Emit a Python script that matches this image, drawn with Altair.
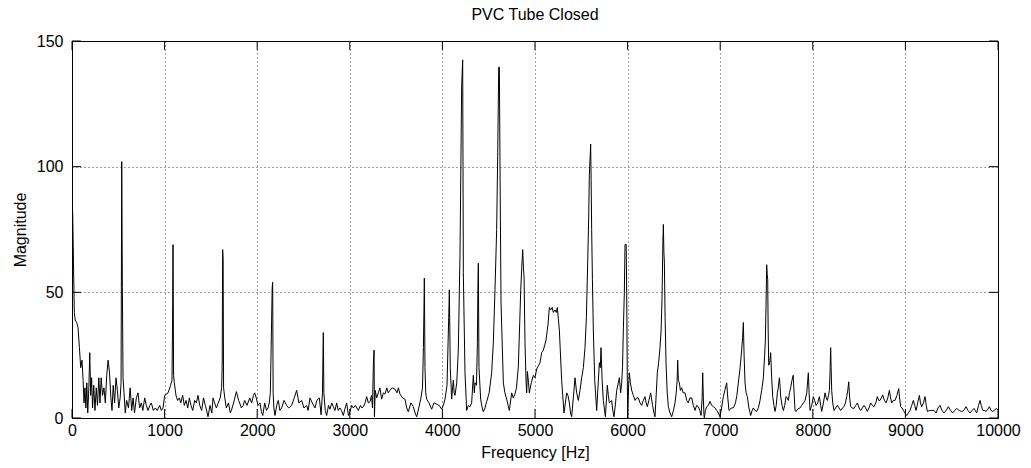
import altair as alt
import pandas as pd

freq = [0, 8, 16, 25, 35, 50, 65, 80, 94, 108, 120, 130, 140, 150, 160, 170, 182, 192, 202, 212, 222, 235, 248, 262, 275, 290, 302, 315, 330, 345, 360, 375, 390, 405, 420, 432, 445, 460, 475, 490, 505, 520, 530, 537, 544, 551, 562, 575,
        590, 610, 628, 645, 660, 675, 695, 713, 730, 749, 765, 785, 803, 821, 840, 857, 878, 900, 920, 947, 965, 983, 1001, 1037, 1065, 1080, 1086, 1091, 1097, 1105, 1123, 1140, 1159, 1175, 1195, 1213, 1231, 1250, 1267, 1285, 1303, 1325, 1343, 1361, 1380, 1400, 1420, 1440, 1460, 1469, 1490, 1510, 1523, 1540, 1559, 1580, 1600, 1616, 1622, 1627, 1632, 1637, 1650, 1667, 1690, 1710, 1721, 1745, 1775, 1800, 1829, 1848, 1865, 1890, 1919, 1940, 1960, 1973, 1990, 2009, 2030, 2045, 2060, 2081, 2100, 2117, 2130, 2142, 2162, 2167, 2172, 2180, 2192, 2210, 2228, 2245, 2264, 2290, 2318, 2340, 2372, 2400, 2426, 2450, 2480, 2505, 2534, 2550, 2570, 2595, 2624, 2645, 2671, 2690, 2705, 2710, 2714, 2720, 2735, 2750, 2770, 2786, 2805, 2822, 2840, 2858, 2875, 2894, 2910, 2930, 2950, 2966, 2985, 3002, 3020, 3038, 3060, 3092, 3115, 3130, 3146, 3165, 3182, 3200, 3218, 3235, 3245, 3255, 3262, 3266, 3275, 3290, 3308, 3325, 3344, 3362, 3380, 3400, 3415, 3434, 3460, 3488, 3510, 3525, 3542, 3570, 3596, 3615, 3632, 3660, 3686, 3705, 3722, 3745, 3766, 3785, 3795, 3800, 3805, 3812, 3820, 3830, 3855, 3884, 3910, 3938, 3965, 3992, 4010, 4028, 4050, 4068, 4075, 4085, 4100, 4110, 4118, 4127, 4136, 4155, 4172, 4190, 4208, 4219, 4226, 4244, 4262, 4280, 4298, 4316, 4334, 4345, 4352, 4368, 4378, 4383, 4388, 4395, 4413, 4430, 4442, 4460, 4478, 4505, 4532, 4550, 4568, 4586, 4597, 4608, 4615, 4622, 4633, 4658, 4675, 4694, 4710, 4723, 4748, 4765, 4784, 4800, 4820, 4835, 4846, 4857, 4867, 4875, 4882, 4892, 4903, 4910, 4918, 4930, 4939, 4960, 4982, 5000, 5018, 5040, 5054, 5072, 5090, 5105, 5119, 5140, 5155, 5170, 5185, 5198, 5215, 5230, 5241, 5263, 5288, 5313, 5328, 5342, 5356, 5371, 5384, 5396, 5414, 5432, 5450, 5468, 5486, 5504, 5522, 5540, 5555, 5569, 5580, 5587, 5597, 5601, 5606, 5612, 5620, 5630, 5645, 5666, 5680, 5695, 5705, 5713, 5725, 5738, 5760, 5781, 5792, 5803, 5828, 5840, 5853, 5870, 5882, 5900, 5911, 5925, 5936, 5945, 5954, 5965, 5972, 5985, 5990, 5997, 6001, 6010, 6019, 6030, 6044, 6062, 6080, 6098, 6116, 6134, 6152, 6170, 6188, 6200, 6213, 6230, 6249, 6270, 6285, 6296, 6310, 6321, 6335, 6350, 6362, 6372, 6381, 6386, 6392, 6397, 6405, 6415, 6428, 6440, 6458, 6476, 6495, 6512, 6525, 6535, 6541, 6548, 6559, 6570, 6584, 6600, 6620, 6638, 6656, 6672, 6692, 6710, 6728, 6745, 6764, 6780, 6793, 6805, 6811, 6818, 6825, 6829, 6840, 6854, 6872, 6890, 6908, 6926, 6945, 6962, 6980, 6998, 7015, 7034, 7050, 7070, 7082, 7095, 7120, 7142, 7165, 7180, 7196, 7215, 7232, 7242, 7250, 7258, 7268, 7280, 7293, 7310, 7329, 7345, 7358, 7375, 7394, 7412, 7430, 7448, 7466, 7480, 7488, 7495, 7502, 7508, 7513, 7518, 7524, 7534, 7545, 7556, 7567, 7580, 7592, 7605, 7617, 7627, 7639, 7646, 7653, 7668, 7682, 7697, 7711, 7723, 7736, 7748, 7761, 7775, 7788, 7798, 7808, 7820, 7835, 7862, 7880, 7900, 7916, 7935, 7945, 7952, 7960, 7970, 7988, 8006, 8020, 8035, 8053, 8071, 8085, 8096, 8115, 8132, 8145, 8157, 8170, 8179, 8186, 8193, 8198, 8204, 8215, 8229, 8247, 8265, 8283, 8301, 8320, 8337, 8352, 8366, 8378, 8388, 8398, 8409, 8427, 8445, 8463, 8481, 8500, 8517, 8535, 8553, 8571, 8589, 8607, 8625, 8643, 8661, 8680, 8697, 8712, 8726, 8740, 8755, 8773, 8791, 8810, 8827, 8840, 8852, 8870, 8888, 8908, 8928, 8940, 8949, 8963, 8978, 8996, 9014, 9032, 9050, 9068, 9086, 9100, 9115, 9133, 9151, 9163, 9176, 9195, 9212, 9225, 9237, 9260, 9284, 9308, 9331, 9352, 9374, 9395, 9417, 9440, 9464, 9488, 9511, 9532, 9554, 9580, 9608, 9630, 9655, 9676, 9698, 9720, 9741, 9755, 9770, 9790, 9806, 9820, 9835, 9853, 9871, 9890, 9907, 9925, 9943, 9960, 9979, 10000]

mag = [91, 80, 62, 42, 39, 38, 36, 28, 20, 23, 15, 6, 12, 4, 14, 2, 12, 26, 9, 16, 4, 13, 3, 12, 5, 16, 6, 16, 9, 12, 6, 17, 23, 18, 8, 3, 13, 6, 16, 11, 4, 8, 14, 102, 52, 16, 10, 2,
       7, 4, 12, 3, 8, 2, 8, 10, 4, 6, 3, 8, 5, 3, 5, 6, 3, 4, 3, 5, 3, 4, 9, 10, 13, 15, 39, 69, 17, 14, 9, 7, 8, 6, 9, 5, 7, 4, 8, 5, 3, 7, 6, 9, 5, 3, 8, 5, 2, 0.5, 5, 2, 8, 6, 4, 6, 8, 12, 21, 67, 63, 12, 8, 4, 6, 2, 3, 6, 10.5, 7, 4, 5, 7, 5, 8, 6, 9, 10, 8, 5, 6, 2.5, 1, 6, 3, 4, 6, 10, 52, 54, 10, 4, 1, 5, 7, 3, 4, 7, 5, 4, 5, 8, 11, 6, 7, 4, 5, 3, 8, 6, 4, 7, 8, 1.3, 10, 24, 34, 10, 3, 1, 5, 3.5, 6, 4.5, 3, 6, 3, 4, 3, 1, 4, 6, 1, 2.5, 5, 4, 5, 3, 5, 4, 4.5, 6, 8.5, 6, 6.5, 9, 4, 22, 27, 0.5, 11, 8, 10, 12, 7.5, 10, 9.5, 12, 10, 11, 12, 11.5, 10, 12, 9.5, 8, 7.5, 4, 2.5, 6, 4.5, 2, 0.5, 4, 7.5, 12, 28, 41, 55.7, 20, 10, 7.5, 6, 3.5, 6, 5.5, 5, 3.5, 5, 7.5, 13, 40, 51, 20, 7.5, 12, 15, 10, 9, 14, 27, 65, 132, 142.5, 58, 18, 3, 5, 4.5, 6, 17, 10, 14, 13, 30, 51, 61.6, 20, 7.5, 4, 2.5, 4, 6.5, 10, 18, 30, 51, 75, 104, 139.6, 139.6, 101, 46, 14, 10, 7.5, 5, 3, 10, 8, 9.5, 12, 20.5, 38, 51, 60, 67, 60, 56, 30, 15, 10, 18.5, 14, 10, 14, 17, 16, 19.5, 21, 22, 26, 27, 29, 31, 37, 44, 43, 44, 42, 43, 42, 44, 35, 15, 2, 6, 10, 9, 6, 2, 0.5, 8, 16, 10, 7, 11, 16, 20, 28, 40, 62, 80, 97, 105, 109, 95, 75, 55, 35, 15, 3, 12, 22, 20, 28, 15, 7, 0.5, 13, 9, 6, 7, 3, 0.5, 6, 11, 14, 16, 10, 14, 20, 35, 50, 69, 69, 50, 15, 0, 12, 18, 14, 11, 9, 7, 8, 8, 6, 5, 7, 8.5, 6, 4.5, 7, 10, 5, 2, 0.5, 10, 18, 22, 28, 35, 48, 70, 77, 66, 62, 40, 22, 10, 4.5, 2, 0.5, 3, 6, 10, 15, 23, 15, 14, 11, 12, 10, 10, 7, 6, 8, 8, 5, 3, 5, 4.5, 3, 1, 8, 18, 8, 1, 0, 3, 4.5, 5, 6.6, 5, 4.5, 4, 3, 2, 0.5, 4, 8.5, 11, 14, 8, 3, 4, 4, 6, 9, 14, 20, 27, 32, 38, 25, 14, 10, 8.5, 4, 1, 3, 4, 3, 2.6, 4, 7, 11, 16, 25, 31, 45, 61, 57, 55, 35, 21, 22, 26, 16, 8.5, 5, 2.6, 5, 10, 12, 16, 13, 8.5, 5, 3, 5, 8.5, 8, 7, 10, 12, 15, 17, 10, 3, 2.6, 3.5, 4, 5, 6, 7, 10, 15, 18, 10, 3, 5, 8.5, 7, 5, 6, 8.5, 5, 2.6, 6, 10, 8, 7, 9, 11, 18, 28, 20, 11, 6, 3, 4, 5, 4, 3, 4, 4.5, 6, 8.5, 11, 14.4, 8, 4.5, 4, 3.8, 5, 6, 4, 3, 4, 5, 4, 2.6, 4, 6, 5, 4.5, 6, 8.5, 7, 7, 8, 9.2, 7, 6, 8, 11, 8, 6, 7, 7, 9, 11.7, 7, 4.5, 4, 3, 2, 1, 2, 3, 5, 7, 5, 3, 6, 9, 6, 4.5, 6, 8.5, 5, 2.6, 3, 3, 3, 2, 4, 5, 3, 2, 3, 4.5, 3, 2, 3, 3.8, 3, 2.6, 3, 4.5, 3, 2, 3, 3.8, 3, 2, 5, 7, 5, 3, 3, 2.6, 3.5, 4.5, 3, 2.6, 3, 3.8, 3.2]

x_ticks = [0, 1000, 2000, 3000, 4000, 5000, 6000, 7000, 8000, 9000, 10000]
y_ticks = [0, 50, 100, 150]

W, H = 926, 377
TICK = 9
FONT = "Liberation Sans"

df = pd.DataFrame({"f": freq, "m": mag})
xt = pd.DataFrame({"f": x_ticks})
yt = pd.DataFrame({"m": y_ticks})

xscale = alt.Scale(domain=[0, 10000], nice=False, zero=False)
yscale = alt.Scale(domain=[0, 150], nice=False, zero=False)

line = alt.Chart(df).mark_line(color="black", strokeWidth=1, clip=True).encode(
    x=alt.X("f:Q", scale=xscale,
            axis=alt.Axis(values=x_ticks, title="Frequency [Hz]", format="d",
                          labelFlush=False, labelOverlap=False, labelPadding=4,
                          titlePadding=6)),
    y=alt.Y("m:Q", scale=yscale,
            axis=alt.Axis(values=y_ticks, title="Magnitude", format="d",
                          labelOverlap=False, labelPadding=9, titlePadding=8)),
)

bottom_ticks = alt.Chart(xt).mark_rule(color="black", strokeWidth=1).encode(
    x=alt.X("f:Q", scale=xscale), y=alt.value(H - TICK), y2=alt.value(H))
top_ticks = alt.Chart(xt).mark_rule(color="black", strokeWidth=1).encode(
    x=alt.X("f:Q", scale=xscale), y=alt.value(0), y2=alt.value(TICK))
left_ticks = alt.Chart(yt).mark_rule(color="black", strokeWidth=1).encode(
    y=alt.Y("m:Q", scale=yscale), x=alt.value(0), x2=alt.value(TICK))
right_ticks = alt.Chart(yt).mark_rule(color="black", strokeWidth=1).encode(
    y=alt.Y("m:Q", scale=yscale), x=alt.value(W - TICK), x2=alt.value(W))

chart = alt.layer(line, bottom_ticks, top_ticks, left_ticks, right_ticks).properties(
    width=W, height=H,
    title=alt.TitleParams("PVC Tube Closed", font=FONT, fontSize=16, fontWeight="normal",
                          color="black", baseline="bottom", offset=12, dy=18,
                          anchor="middle"),
    autosize=alt.AutoSizeParams(type="none"),
    padding={"left": 72, "top": 41, "right": 33, "bottom": 50},
    background="white",
).configure_view(
    stroke="black", strokeWidth=1
).configure_axis(
    labelFont=FONT, labelFontSize=16, labelColor="black",
    titleFont=FONT, titleFontSize=16, titleFontWeight="normal", titleColor="black",
    domain=False, ticks=False,
    grid=True, gridColor="black", gridDash=[1, 3], gridOpacity=0.75, gridWidth=1,
)

chart.save("out.html", embed_options={"renderer": "svg", "actions": False})
